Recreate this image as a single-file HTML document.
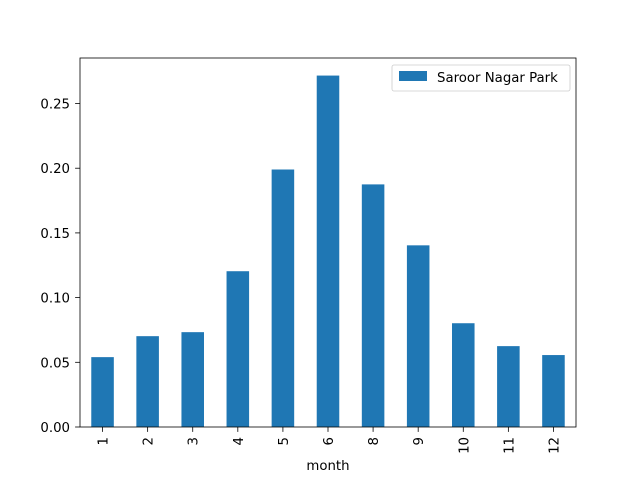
<!DOCTYPE html>
<html><head><meta charset="utf-8"><style>
body{margin:0;background:#fff;}
svg{display:block;font-family:"DejaVu Sans","Liberation Sans",sans-serif;}
</style></head><body>
<svg id="chart" width="640" height="480"></svg>
<script>
const categories=["1","2","3","4","5","6","8","9","10","11","12"];
const values=[0.054,0.0702,0.0733,0.1204,0.199,0.2716,0.1875,0.1404,0.0802,0.0625,0.0556];
const yTicks=[0,0.05,0.10,0.15,0.20,0.25];
const yTickLabels=["0.00","0.05","0.10","0.15","0.20","0.25"];
const seriesName="Saroor Nagar Park";

const NS="http://www.w3.org/2000/svg";
const svg=document.getElementById('chart');
const L=80,R=576,T=58,B=427;
const FS=13.3;
const yMax=Math.max(...values)*1.05;
const y=v=>B-(v/yMax)*(B-T);
const slot=(R-L)/categories.length;
const xc=i=>L+slot*(i+0.5);
function el(tag,attrs,text){const e=document.createElementNS(NS,tag);for(const k in attrs)e.setAttribute(k,attrs[k]);if(text!=null)e.textContent=text;svg.appendChild(e);return e;}

values.forEach((v,i)=>{
  const r=el('rect',{x:xc(i)-slot/4,y:y(v),width:slot/2,height:B-y(v),fill:'#1f77b4'});
  
  
});
const frame=el('rect',{x:L,y:T,width:R-L,height:B-T,fill:'none',stroke:'#000','stroke-width':0.8});



yTicks.forEach((t,i)=>{
  el('line',{x1:L-4.9,x2:L,y1:y(t),y2:y(t),stroke:'#000','stroke-width':0.8});
  const tx=el('text',{x:L-10,y:y(t)+5,'font-size':FS,'text-anchor':'end'},yTickLabels[i]);
  
  
});
categories.forEach((c,i)=>{
  el('line',{x1:xc(i),x2:xc(i),y1:B,y2:B+4.9,stroke:'#000','stroke-width':0.8});
  const tx=el('text',{x:0,y:0,'font-size':FS,'text-anchor':'end',transform:`translate(${xc(i)+5},${B+10}) rotate(-90)`},c);
  
  
});
const xt=el('text',{x:(L+R)/2,y:470,'font-size':FS,'text-anchor':'middle'},'month');



const lg=el('rect',{x:392,y:65,width:178,height:26,rx:2,fill:'#fff','fill-opacity':0.8,stroke:'#ccc','stroke-width':0.8});


const lp=el('rect',{x:399,y:71,width:28,height:10,fill:'#1f77b4'});


const lt=el('text',{x:437,y:82,'font-size':FS},seriesName);


</script>
</body></html>
